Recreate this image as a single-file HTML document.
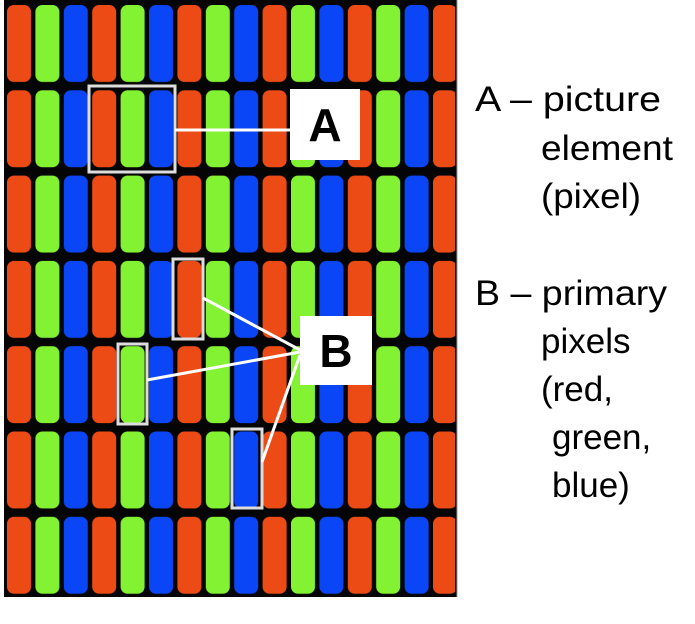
<!DOCTYPE html>
<html><head><style>
html,body{margin:0;padding:0;background:#fff;width:695px;height:624px;overflow:hidden}
svg{display:block}
</style></head><body>
<svg width="695" height="624" xmlns="http://www.w3.org/2000/svg">
<defs>
<pattern id="px" patternUnits="userSpaceOnUse" x="7" y="5" width="85.2" height="85.3">
<rect x="0" y="0" width="85.2" height="85.3" fill="#050505"/>
<rect x="0" y="0" width="24" height="77" rx="7" fill="#ec4b16"/>
<rect x="28.4" y="0" width="24" height="77" rx="7" fill="#82f232"/>
<rect x="56.8" y="0" width="24" height="77" rx="7" fill="#0a46f5"/>
</pattern>
</defs>
<rect x="4" y="0" width="453" height="597" fill="#050505"/>
<rect x="6" y="0" width="449" height="597" fill="url(#px)"/>
<line x1="457" y1="0" x2="457" y2="597" stroke="#999" stroke-width="1"/>
<g fill="none" stroke="#fff" stroke-width="3">
<rect x="89" y="86" width="86" height="86" stroke="#ddd"/>
<line x1="175" y1="130" x2="292" y2="130"/>
<rect x="173" y="259" width="30" height="80" stroke="#ddd"/>
<rect x="118" y="344" width="29" height="80" stroke="#ddd"/>
<rect x="232" y="429" width="30" height="79" stroke="#ddd"/>
<line x1="203" y1="298" x2="300" y2="350"/>
<line x1="147" y1="380" x2="300" y2="352"/>
<line x1="262" y1="462" x2="300" y2="355"/>
</g>
<rect x="290" y="89" width="70" height="71" fill="#fff"/>
<text x="325" y="141" font-size="46" font-weight="bold" text-anchor="middle" fill="#000" font-family="Liberation Sans, sans-serif">A</text>
<rect x="300" y="316" width="72" height="69" fill="#fff"/>
<text x="336" y="367" font-size="46" font-weight="bold" text-anchor="middle" fill="#000" font-family="Liberation Sans, sans-serif">B</text>
<g font-size="35" fill="#000" font-family="Liberation Sans, sans-serif">
<text x="475" y="111" textLength="186" lengthAdjust="spacingAndGlyphs">A – picture</text>
<text x="541" y="160" textLength="132" lengthAdjust="spacingAndGlyphs">element</text>
<text x="541" y="208" textLength="100" lengthAdjust="spacingAndGlyphs">(pixel)</text>
<text x="475" y="305" textLength="192" lengthAdjust="spacingAndGlyphs">B – primary</text>
<text x="541" y="353">pixels</text>
<text x="541" y="401">(red,</text>
<text x="552" y="449">green,</text>
<text x="552" y="497">blue)</text>
</g>
</svg>
</body></html>
